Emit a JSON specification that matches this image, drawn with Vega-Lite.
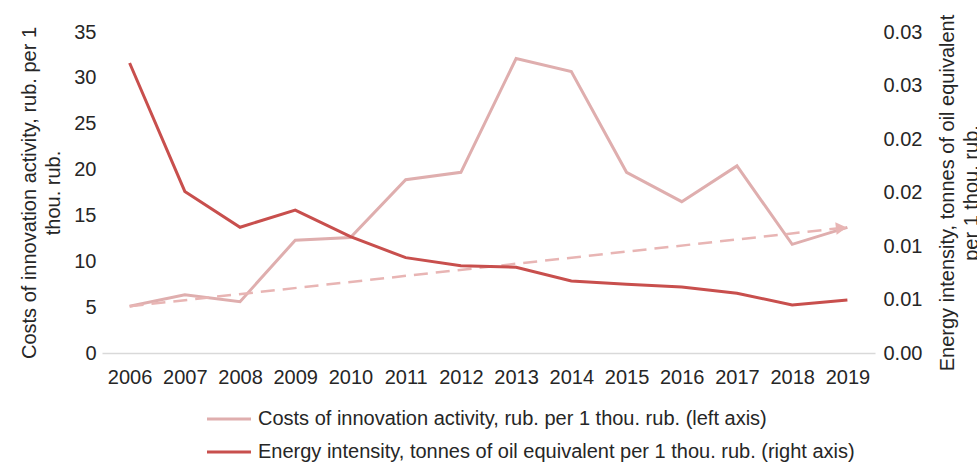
{
  "$schema": "https://vega.github.io/schema/vega-lite/v6.json",
  "width": 773,
  "height": 321,
  "autosize": {"type": "none"},
  "padding": {"left": 102, "top": 32, "right": 102, "bottom": 116},
  "background": "white",
  "config": {
    "font": "Liberation Sans",
    "view": {"stroke": null},
    "axis": {"labelFont": "Liberation Sans", "titleFont": "Liberation Sans", "labelColor": "#262626", "titleColor": "#262626", "titleFontWeight": "normal", "grid": false, "ticks": false, "labelFontSize": 20, "titleFontSize": 20},
    "legend": {"title": null, "orient": "none", "legendX": 117, "legendY": 377, "direction": "vertical", "labelFontSize": 20, "labelColor": "#262626", "labelFont": "Liberation Sans", "symbolType": "M-4,0H4", "symbolStrokeWidth": 3, "symbolSize": 121, "rowPadding": 13, "labelOffset": 19, "labelLimit": 800}
  },
  "datasets": {
    "main": [
      {"year": 2006, "cost": 5.1, "energy": 0.0271},
      {"year": 2007, "cost": 6.35, "energy": 0.0151},
      {"year": 2008, "cost": 5.6, "energy": 0.01175},
      {"year": 2009, "cost": 12.3, "energy": 0.01336},
      {"year": 2010, "cost": 12.6, "energy": 0.01087},
      {"year": 2011, "cost": 18.9, "energy": 0.00891},
      {"year": 2012, "cost": 19.7, "energy": 0.00816},
      {"year": 2013, "cost": 32.1, "energy": 0.00801},
      {"year": 2014, "cost": 30.7, "energy": 0.00673},
      {"year": 2015, "cost": 19.7, "energy": 0.00642},
      {"year": 2016, "cost": 16.5, "energy": 0.00617},
      {"year": 2017, "cost": 20.4, "energy": 0.00558},
      {"year": 2018, "cost": 11.85, "energy": 0.00449},
      {"year": 2019, "cost": 13.7, "energy": 0.00495}
    ],
    "trend": [
      {"year": 2006, "value": 5.1},
      {"year": 2019, "value": 13.7}
    ],
    "arrow": [
      {"year": 2019, "value": 13.7}
    ]
  },
  "layer": [
    {
      "layer": [
        {
          "data": {"name": "main"},
          "mark": {"type": "line", "strokeWidth": 3},
          "encoding": {
            "x": {"field": "year", "type": "quantitative", "scale": {"domain": [2005.5, 2019.5], "nice": false, "zero": false},
              "axis": {"title": null, "values": [2006,2007,2008,2009,2010,2011,2012,2013,2014,2015,2016,2017,2018,2019], "format": "d", "labelPadding": 14, "domainColor": "#d9d9d9", "domainWidth": 1.5, "labelFlush": false, "labelOverlap": false}},
            "y": {"field": "cost", "type": "quantitative", "scale": {"domain": [0, 35], "nice": false},
              "axis": {"title": ["Costs of innovation activity, rub. per 1", "thou. rub."], "values": [0,5,10,15,20,25,30,35], "domain": false, "labelPadding": 6, "titlePadding": 10, "titleLineHeight": 24}},
            "color": {"datum": "Costs of innovation activity, rub. per 1 thou. rub. (left axis)", "type": "nominal",
              "scale": {"domain": ["Costs of innovation activity, rub. per 1 thou. rub. (left axis)", "Energy intensity, tonnes of oil equivalent per 1 thou. rub. (right axis)"], "range": ["#dfaeae", "#c84f4d"]},
              "legend": {"title": null}}
          }
        },
        {
          "data": {"name": "trend"},
          "mark": {"type": "line", "strokeWidth": 2.5, "strokeDash": [14, 8], "color": "#e8b5b4"},
          "encoding": {
            "x": {"field": "year", "type": "quantitative"},
            "y": {"field": "value", "type": "quantitative"}
          }
        },
        {
          "data": {"name": "arrow"},
          "mark": {"type": "point", "shape": "triangle-right", "filled": true, "opacity": 1, "size": 160, "angle": -6, "color": "#e8b5b4", "xOffset": -6, "yOffset": 0.6},
          "encoding": {
            "x": {"field": "year", "type": "quantitative"},
            "y": {"field": "value", "type": "quantitative"}
          }
        }
      ]
    },
    {
      "data": {"name": "main"},
      "mark": {"type": "line", "strokeWidth": 3},
      "encoding": {
        "x": {"field": "year", "type": "quantitative"},
        "y": {"field": "energy", "type": "quantitative", "scale": {"domain": [0, 0.03], "nice": false},
          "axis": {"orient": "right", "title": ["Energy intensity, tonnes of oil equivalent", "per 1 thou. rub."], "values": [0, 0.005, 0.01, 0.015, 0.02, 0.025, 0.03], "labelExpr": "format(datum.value + 0.000001, '.2f')", "domain": false, "labelPadding": 8, "titleAngle": 270, "titleBaseline": "top", "titlePadding": -8, "titleLineHeight": 24}},
        "color": {"datum": "Energy intensity, tonnes of oil equivalent per 1 thou. rub. (right axis)", "type": "nominal", "legend": {"title": null}}
      }
    }
  ],
  "resolve": {"scale": {"y": "independent"}}
}
